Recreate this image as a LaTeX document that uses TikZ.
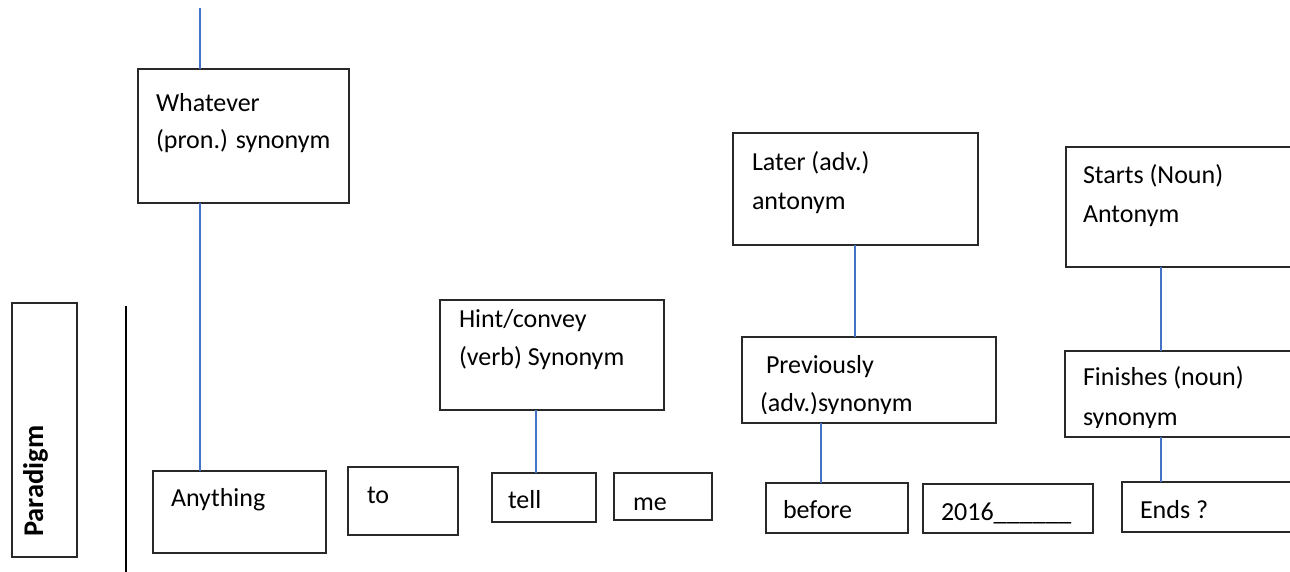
\documentclass[tikz,border=0pt]{standalone}
\usepackage{fontspec}
\setmainfont{Carlito}
\definecolor{connblue}{RGB}{68,114,196}
\definecolor{boxline}{RGB}{40,40,40}
\begin{document}
\begin{tikzpicture}[x=1pt,y=-1pt,
  box/.style={draw=boxline, line width=1.1pt, inner sep=0pt, outer sep=0pt, anchor=north west},
  lbl/.style={anchor=base west, inner sep=0pt, outer sep=0pt, font=\fontsize{26pt}{30pt}\selectfont},
  conn/.style={draw=connblue, line width=1.6pt},
  sep/.style={draw=black, line width=1.6pt}]
\useasboundingbox (0,0) rectangle (1290,571);
\clip (0,0) rectangle (1290,571);

% Paradigm label
\node[box, minimum width=65pt, minimum height=254pt] (parbox) at (12,303) {};
\node[anchor=base west, inner sep=0pt, rotate=90, font=\fontsize{28.5pt}{32pt}\selectfont\bfseries] (partxt) at (43,537) {Paradigm};
\coordinate (septop) at (126,306);
\coordinate (sepbot) at (126,580);
\draw[sep] (septop) -- (sepbot);

% upper boxes
\node[box, minimum width=211pt, minimum height=134pt] (whatever) at (138,69) {};
\node[lbl] (whatever1) at (156,111) {Whatever};
\node[lbl] (whatever2) at (156,148) {(pron.) synonym};

\node[box, minimum width=224pt, minimum height=110pt] (hint) at (440,300) {};
\node[lbl] (hint1) at (459,327) {Hint/convey};
\node[lbl] (hint2) at (459,365) {(verb) Synonym};

\node[box, minimum width=245pt, minimum height=112pt] (later) at (733,133) {};
\node[lbl] (later1) at (752,170) {Later (adv.)};
\node[lbl] (later2) at (752,209) {antonym};

\node[box, minimum width=254pt, minimum height=86pt] (prev) at (742,337) {};
\node[lbl] (prev1) at (766,373) {Previously};
\begin{scope}
  \clip (742,337) rectangle (996,413);
  \node[lbl] (prev2) at (760,411) {(adv.)synonym};
\end{scope}

\node[box, minimum width=240pt, minimum height=120pt] (starts) at (1066,147) {};
\node[lbl] (starts1) at (1083,183) {Starts (Noun)};
\node[lbl] (starts2) at (1083,222) {Antonym};

\node[box, minimum width=240pt, minimum height=86pt] (fin) at (1065,351) {};
\node[lbl] (fin1) at (1083,385) {Finishes (noun)};
\begin{scope}
  \clip (1065,351) rectangle (1300,427);
  \node[lbl] (fin2) at (1083,425) {synonym};
\end{scope}

% bottom row
\node[box, minimum width=173pt, minimum height=82pt] (anything) at (153,471) {};
\node[lbl] (anything1) at (171,506) {Anything};

\node[box, minimum width=110pt, minimum height=68pt] (to) at (348,467) {};
\node[lbl] (to1) at (367,503) {to};

\node[box, minimum width=104pt, minimum height=49pt] (tell) at (492,473) {};
\node[lbl] (tell1) at (508,508) {tell};

\node[box, minimum width=98pt, minimum height=47pt] (me) at (614,473) {};
\node[lbl] (me1) at (633,510) {me};

\node[box, minimum width=142pt, minimum height=50pt] (before) at (766,483) {};
\node[lbl] (before1) at (783,518) {before};

\node[box, minimum width=170pt, minimum height=49pt] (yr) at (923,484) {};
\node[lbl] (yr1) at (941,520) {2016\_\_\_\_\_\_};

\node[box, minimum width=190pt, minimum height=50pt] (ends) at (1122,482) {};
\node[lbl] (ends1) at (1140,518) {Ends ?};

% connectors
\coordinate (topend) at (200,8);
\coordinate (c1) at (200,0);
\coordinate (c2) at (536,0);
\coordinate (c3) at (855,0);
\coordinate (c4) at (821,0);
\coordinate (c5) at (1161,0);
\draw[conn] (topend) -- (whatever.north -| topend);
\draw[conn] (whatever.south -| c1) -- (anything.north -| c1);
\draw[conn] (hint.south -| c2) -- (tell.north -| c2);
\draw[conn] (later.south -| c3) -- (prev.north -| c3);
\draw[conn] (prev.south -| c4) -- (before.north -| c4);
\draw[conn] (starts.south -| c5) -- (fin.north -| c5);
\draw[conn] (fin.south -| c5) -- (ends.north -| c5);
\end{tikzpicture}
\end{document}
